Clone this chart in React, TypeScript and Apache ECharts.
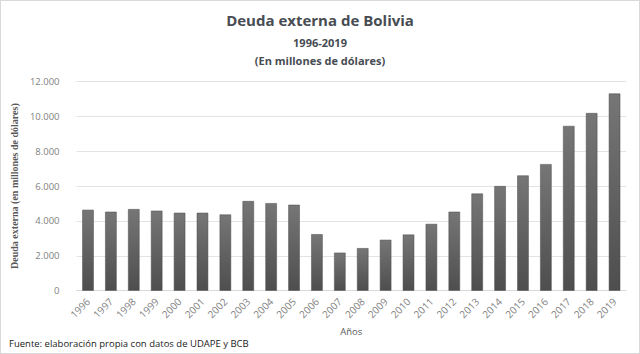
import React, { useEffect, useRef } from "react";
import * as echarts from "echarts";

const years = [
  "1996", "1997", "1998", "1999", "2000", "2001", "2002", "2003", "2004", "2005",
  "2006", "2007", "2008", "2009", "2010", "2011", "2012", "2013", "2014", "2015",
  "2016", "2017", "2018", "2019",
];

// Deuda externa, millones de dólares
const deuda = [
  4640, 4530, 4680, 4590, 4470, 4470, 4370, 5140, 5020, 4930,
  3240, 2180, 2440, 2920, 3220, 3830, 4530, 5570, 6000, 6610,
  7260, 9450, 10190, 11310,
];

const yTicks = [0, 2000, 4000, 6000, 8000, 10000, 12000];

const fmt = (v: number) => String(v).replace(/\B(?=(\d{3})+(?!\d))/g, ".");

export default function App() {
  const ref = useRef<HTMLDivElement>(null);

  useEffect(() => {
    if (!ref.current) return;
    const chart = echarts.init(ref.current, undefined, { renderer: "svg" });
    const titleColor = "#474c53";
    const axisGray = "#7f7f7f";
    chart.setOption({
      animation: false,
      backgroundColor: "#ffffff",
      title: [
        {
          text: "Deuda externa de Bolivia",
          left: "center",
          top: 6,
          textStyle: { fontFamily: "Open Sans", fontWeight: "bold", fontSize: 15, color: titleColor },
        },
        {
          text: "1996-2019",
          left: "center",
          top: 31,
          textStyle: { fontFamily: "Open Sans", fontWeight: "bold", fontSize: 11, color: titleColor },
        },
        {
          text: "(En millones de dólares)",
          left: "center",
          top: 49,
          textStyle: { fontFamily: "Open Sans", fontWeight: "bold", fontSize: 11, color: titleColor },
        },
      ],
      graphic: [
        {
          type: "text",
          left: 8,
          top: 337,
          style: {
            text: "Fuente: elaboración propia con datos de UDAPE y BCB",
            font: "9.5px 'Open Sans'",
            fill: "#1a1a1a",
          },
        },
      ],
      grid: { left: 68, right: 13, top: 80.5, bottom: 62.3 },
      xAxis: {
        type: "category",
        data: years,
        name: "Años",
        nameLocation: "middle",
        nameGap: 36,
        nameTextStyle: { fontFamily: "Open Sans", fontSize: 9.5, color: "#595959" },
        axisLine: { lineStyle: { color: "#d9d9d9" } },
        axisTick: { show: false },
        axisLabel: {
          rotate: 45,
          interval: 0,
          fontFamily: "Open Sans",
          fontSize: 10,
          color: axisGray,
          margin: 9,
        },
      },
      yAxis: {
        type: "value",
        min: yTicks[0],
        max: yTicks[yTicks.length - 1],
        interval: 2000,
        name: "Deuda externa (en millones de dólares)",
        nameLocation: "middle",
        nameGap: 41,
        nameRotate: 90,
        nameTextStyle: { fontFamily: "Liberation Serif", fontWeight: "bold", fontSize: 10, color: "#595959" },
        axisLine: { show: false },
        axisTick: { show: false },
        splitLine: { lineStyle: { color: "#e3e3e3" } },
        axisLabel: {
          fontFamily: "Open Sans",
          fontSize: 9.5,
          color: axisGray,
          margin: 17,
          formatter: (v: number) => fmt(v),
        },
      },
      series: [
        {
          type: "bar",
          data: deuda,
          barWidth: "50%",
          itemStyle: {
            color: new echarts.graphic.LinearGradient(0, 0, 0, 1, [
              { offset: 0, color: "#767676" },
              { offset: 1, color: "#4e4e4e" },
            ]),
            borderColor: "#4a4a4a",
            borderWidth: 0.5,
          },
        },
      ],
    });
    return () => chart.dispose();
  }, []);

  return (
    <div
      style={{
        width: 638,
        height: 352,
        border: "1px solid #d9d9d9",
        position: "absolute",
        left: 0,
        top: 0,
      }}
    >
      <div ref={ref} style={{ width: 638, height: 352 }} />
    </div>
  );
}
